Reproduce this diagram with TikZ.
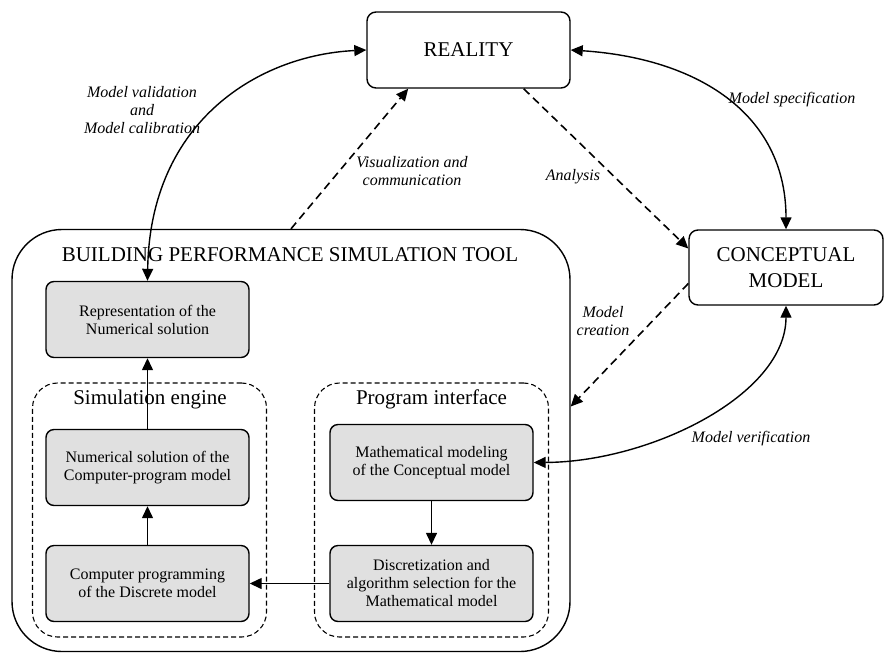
\documentclass[tikz,border=0pt]{standalone}
\usepackage{fontspec}
\setmainfont{Liberation Serif}
\usetikzlibrary{arrows.meta,calc}
\definecolor{boxgray}{RGB}{224,224,224}
\begin{document}
\begin{tikzpicture}[x=1pt,y=-1pt,
  line width=1.4pt,
  tip/.style={-{Triangle[length=12pt,width=11pt]}},
  bitip/.style={{Triangle[length=12pt,width=11pt]}-{Triangle[length=12pt,width=11pt]}},
  dashline/.style={dash pattern=on 8pt off 5pt, line width=1.6pt},
  bigtext/.style={font=\fontsize{21}{26}\selectfont},
  topbox/.style={draw, rounded corners=9pt, fill=white, inner sep=0pt, align=center, bigtext},
  stepbox/.style={draw, rounded corners=8pt, fill=boxgray, minimum width=203pt, minimum height=76pt,
    inner sep=0pt, align=center, font=\fontsize{16}{18}\selectfont},
  group/.style={draw, dash pattern=on 5pt off 3pt, line width=1.1pt, rounded corners=25pt,
    minimum width=234pt, minimum height=254pt, inner sep=0pt},
  note/.style={align=center, font=\fontsize{16}{18}\selectfont\itshape, inner sep=1pt}]
\useasboundingbox (0,0) rectangle (885,654);

% outer tool frame and its title
\node[draw, rounded corners=50pt, minimum width=558pt, minimum height=422pt, inner sep=0pt] (bps) at (291,440.5) {};
\node[bigtext] (bpstitle) at (290,255) {BUILDING PERFORMANCE SIMULATION TOOL};

% top-level boxes
\node[topbox, minimum width=203pt, minimum height=76pt] (reality) at (468.5,50) {REALITY};
\node[topbox, minimum width=194pt, minimum height=75pt] (concept) at (786,267.5) {CONCEPTUAL\\MODEL};

% dashed groups
\node[group] (engine) at (149.5,510) {};
\node[bigtext] (enginelbl) at (150,399) {Simulation engine};
\node[group] (iface) at (431.5,510) {};
\node[bigtext] (ifacelbl) at (431.5,399) {Program interface};

% process steps
\node[stepbox] (rep) at (147.5,319.5) {Representation of the\\Numerical solution};
\node[stepbox] (numsol) at (147.5,467.5) {Numerical solution of the\\Computer-program model};
\node[stepbox] (comp) at (147.5,583.5) {Computer programming\\of the Discrete model};
\node[stepbox] (math) at (431.5,462.5) {Mathematical modeling\\of the Conceptual model};
\node[stepbox] (disc) at (431.5,583.5) {Discretization and\\algorithm selection for the\\Mathematical model};

% flow inside the tool
\draw[tip] (numsol) -- (rep);
\draw[tip] (comp) -- (numsol);
\draw[tip] (math) -- (disc);
\draw[tip] (disc) -- (comp);

% curved two-way links
\draw[bitip] (reality.west) .. controls (260,55) and (150,120) .. (rep.north);
\draw[bitip] (reality.east) .. controls (695,58) and (786,112) .. (concept.north);
\draw[bitip] (concept.south) .. controls (786,395) and (650,462) .. (math.east);

% dashed links
\coordinate (visend) at ($(reality.south west)!0.205!(reality.south east)$);
\coordinate (anastart) at ($(reality.south west)!0.77!(reality.south east)$);
\draw[tip, dashline] (bps.north) -- (visend);
\draw[tip, dashline] (anastart) -- ($(concept.west)+(0,-19)$);
\draw[tip, dashline] ($(concept.west)+(0,16)$) -- ($(bps.east)+(0,-34)$);

% link labels
\node[note] (lblval) at (142,110) {Model validation\\and\\Model calibration};
\node[note] (lblvis) at (412,171) {Visualization and\\communication};
\node[note] (lblana) at (573,177) {Analysis};
\node[note] (lblspec) at (792,100) {Model specification};
\node[note] (lblcre) at (603,321) {Model\\creation};
\node[note] (lblver) at (751,439) {Model verification};
\end{tikzpicture}
\end{document}
